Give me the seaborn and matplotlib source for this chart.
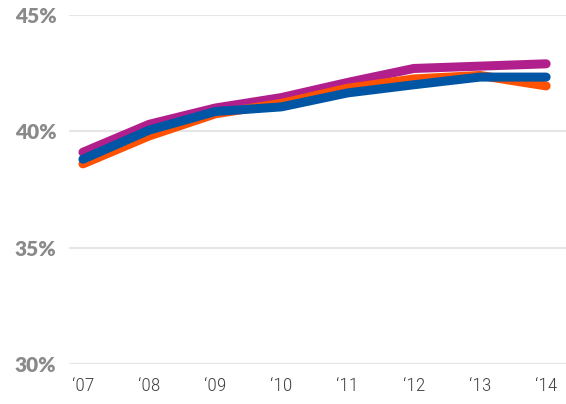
import matplotlib
matplotlib.use("Agg")
import matplotlib.pyplot as plt
from matplotlib import font_manager
import seaborn as sns
import pandas as pd

# Share by year, three series
years = ["\u201807", "\u201808", "\u201809", "\u201810", "\u201811", "\u201812", "\u201813", "\u201814"]
magenta_vals = [39.1, 40.3, 41.0, 41.45, 42.1, 42.7, 42.8, 42.9]
orange_vals = [38.6, 39.8, 40.75, 41.2, 41.85, 42.25, 42.4, 41.95]
blue_vals = [38.8, 40.05, 40.85, 41.05, 41.65, 42.0, 42.33, 42.33]
y_ticks = [30, 35, 40, 45]
y_tick_labels = ["30%", "35%", "40%", "45%"]

series_names = ["magenta", "orange", "blue"]
series_values = [magenta_vals, orange_vals, blue_vals]
palette = {"magenta": "#B01F8C", "orange": "#FF5200", "blue": "#0056A5"}

rows = []
for name, vals in zip(series_names, series_values):
    for i, v in enumerate(vals):
        rows.append({"idx": i, "value": v, "series": name})
df = pd.DataFrame(rows)

sns.set_theme(style="white")
plt.rcParams["font.family"] = ["Lato", "DejaVu Sans"]

# pick a narrow face for the year labels
installed = {f.name for f in font_manager.fontManager.ttflist}
if "Liberation Sans Narrow" in installed:
    year_font = dict(family="Liberation Sans Narrow")
elif "Roboto Condensed" in installed:
    year_font = dict(family="Roboto Condensed", weight="light")
else:
    year_font = dict(family="DejaVu Sans", stretch="condensed")

pct_font = font_manager.FontProperties(family=["Lato", "DejaVu Sans"], weight=800, size=15)

fig = plt.figure(figsize=(5.66, 4.04), dpi=100)
ax = fig.add_axes([0.122, 0.099, 0.878, 0.864])

sns.lineplot(data=df, x="idx", y="value", hue="series", hue_order=series_names,
             palette=palette, linewidth=6.5, legend=False, ax=ax,
             solid_capstyle="round", solid_joinstyle="round")

ax.set_xlim(-0.21, 7.3)
ax.set_ylim(30, 45)
ax.set_yticks(y_ticks)
ax.set_yticklabels(y_tick_labels, fontproperties=pct_font, color="#8a8a8a")
ax.set_xticks(range(len(years)))
ax.set_xticklabels(years, fontsize=14, color="#444444", **year_font)
ax.set_xlabel("")
ax.set_ylabel("")

for s in ax.spines.values():
    s.set_visible(False)
ax.grid(axis="y", color="#e6e6e6", linewidth=1.5, zorder=0)
ax.set_axisbelow(True)
ax.tick_params(axis="y", length=0, pad=9)
ax.tick_params(axis="x", length=5, width=1, color="#dddddd", pad=4, direction="out")

fig.savefig("out.png", dpi=100)
